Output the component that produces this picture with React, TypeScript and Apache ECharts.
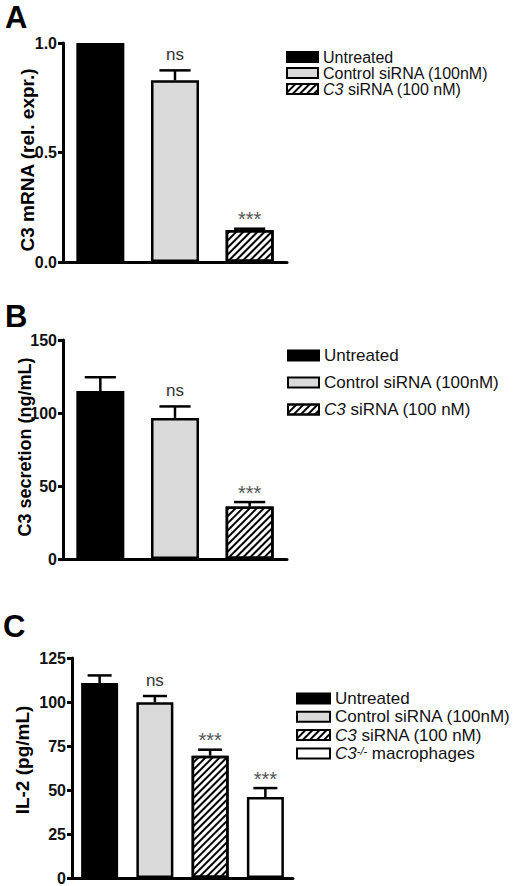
import React, { useEffect, useRef } from "react";
import * as echarts from "echarts";

const FONT = '"Liberation Sans", Arial, Helvetica, sans-serif';

// ---- data ----
const groupsAB = ["Untreated", "Control siRNA (100nM)", "C3 siRNA (100 nM)"];
const groupsC = ["Untreated", "Control siRNA (100nM)", "C3 siRNA (100 nM)", "C3-/- macrophages"];

const meanA = [1.0, 0.83, 0.146];
const errA = [0, 0.045, 0.006];
const sigA = ["", "ns", "***"];
const ticksA = [0, 0.5, 1.0];

const meanB = [115, 96.5, 36];
const errB = [9.5, 8, 3];
const sigB = ["", "ns", "***"];
const ticksB = [0, 50, 100, 150];

const meanC = [110.8, 99.8, 69.5, 46];
const errC = [4.3, 3.6, 3.4, 5.1];
const sigC = ["", "ns", "***", "***"];
const ticksC = [0, 25, 50, 75, 100, 125];

const titleA = "C3 mRNA (rel. expr.)";
const titleB = "C3 secretion (ng/mL)";
const titleC = "IL-2 (pg/mL)";

// ---- styles ----
const hatch = {
  symbol: "rect",
  symbolSize: 1,
  dashArrayX: [1, 0],
  dashArrayY: [1.2, 3],
  rotation: -Math.PI / 4,
  color: "#000",
};
const groupStyles = [
  { color: "#000", borderColor: "#000", borderWidth: 2.5 },
  { color: "#dadada", borderColor: "#000", borderWidth: 2.5 },
  { color: "#fff", borderColor: "#000", borderWidth: 2.5, decal: hatch },
  { color: "#fff", borderColor: "#000", borderWidth: 2.5 },
];

const panels = [
  { groups: groupsAB, mean: meanA, err: errA, sig: sigA, ticks: ticksA, fmt: (v: number) => v.toFixed(1),
    grid: { left: 63, top: 43, width: 224, height: 219 }, barW: 48 },
  { groups: groupsAB, mean: meanB, err: errB, sig: sigB, ticks: ticksB, fmt: (v: number) => String(v),
    grid: { left: 63, top: 340, width: 224, height: 219 }, barW: 48 },
  { groups: groupsC, mean: meanC, err: errC, sig: sigC, ticks: ticksC, fmt: (v: number) => String(v),
    grid: { left: 72, top: 658, width: 221, height: 220 }, barW: 37 },
];

function legendFormatter(name: string) {
  if (name === groupsC[2]) return "{i|C3} siRNA (100 nM)";
  if (name === groupsC[3]) return "{i|C3}{s|-/-} macrophages";
  return name;
}

const legendText = (fs: number, lh: number) => ({
  fontSize: fs,
  fontFamily: FONT,
  color: "#111",
  lineHeight: lh,
  rich: {
    i: { fontStyle: "italic", fontSize: fs, fontFamily: FONT, color: "#111", lineHeight: lh },
    s: { fontStyle: "italic", fontSize: 11, fontFamily: FONT, color: "#111", lineHeight: 11, verticalAlign: "top" },
  },
});

export default function App() {
  const ref = useRef<HTMLDivElement>(null);
  useEffect(() => {
    if (!ref.current) return;
    const chart = echarts.init(ref.current, undefined, { renderer: "svg" });

    const grid: any[] = [];
    const xAxis: any[] = [];
    const yAxis: any[] = [];
    const series: any[] = [];

    panels.forEach((p, pi) => {
      grid.push({ ...p.grid, containLabel: false });
      xAxis.push({
        type: "category",
        gridIndex: pi,
        data: p.groups,
        axisLine: { show: true, lineStyle: { color: "#000", width: 3 } },
        axisTick: { show: false },
        axisLabel: { show: false },
      });
      yAxis.push({
        type: "value",
        gridIndex: pi,
        min: p.ticks[0],
        max: p.ticks[p.ticks.length - 1],
        interval: p.ticks[1] - p.ticks[0],
        axisLine: { show: true, lineStyle: { color: "#000", width: 3 } },
        axisTick: { show: true, length: 5, lineStyle: { color: "#000", width: 3 } },
        splitLine: { show: false },
        axisLabel: {
          formatter: p.fmt,
          fontSize: 16,
          fontWeight: "bold",
          fontFamily: FONT,
          color: "#111",
          margin: 6,
        },
      });
      p.groups.forEach((g, gi) => {
        series.push({
          type: "bar",
          name: g,
          xAxisIndex: pi,
          yAxisIndex: pi,
          barWidth: p.barW,
          barGap: "-100%",
          data: p.mean.map((m, j) => (j === gi ? m : null)),
          itemStyle: groupStyles[gi],
          z: 2,
        });
      });
      const capW = p.barW * 0.65;
      const sig = p.sig;
      series.push({
        type: "custom",
        xAxisIndex: pi,
        yAxisIndex: pi,
        z: 3,
        data: p.mean.map((m, j) => [j, m, p.err[j]]),
        encode: { x: 0, y: 1 },
        renderItem: (params: any, api: any) => {
          const j = api.value(0);
          const m = api.value(1);
          const e = api.value(2);
          const base = api.coord([j, m]);
          const top = api.coord([j, m + e]);
          const children: any[] = [];
          if (e > 0) {
            children.push({
              type: "line",
              shape: { x1: base[0], y1: base[1], x2: top[0], y2: top[1] },
              style: { stroke: "#000", lineWidth: 2.5 },
            });
            children.push({
              type: "line",
              shape: { x1: top[0] - capW / 2, y1: top[1], x2: top[0] + capW / 2, y2: top[1] },
              style: { stroke: "#000", lineWidth: 2.5 },
            });
          }
          const s = sig[j];
          if (s) {
            const isStar = s.indexOf("*") >= 0;
            children.push({
              type: "text",
              x: top[0],
              y: top[1] - (isStar ? 9.5 : 15.5),
              style: {
                text: s,
                fill: isStar ? "#555" : "#333",
                fontSize: isStar ? 20 : 17,
                fontFamily: FONT,
                align: "center",
                verticalAlign: "middle",
              },
            });
          }
          return { type: "group", children };
        },
      });
    });

    const legendBase = {
      orient: "vertical",
      icon: "rect",
      itemHeight: 10,
      padding: 0,
      formatter: legendFormatter,
      selectedMode: false,
    };

    const titleStyle = (fs: number) => ({
      fill: "#000",
      fontSize: fs,
      fontWeight: "bold",
      fontFamily: FONT,
      align: "center",
      verticalAlign: "middle",
    });

    chart.setOption({
      animation: false,
      backgroundColor: "#fff",
      grid,
      xAxis,
      yAxis,
      series,
      legend: [
        { ...legendBase, data: groupsAB, left: 286, top: 49, itemWidth: 31, itemGap: 0, textStyle: legendText(16, 16) },
        { ...legendBase, data: groupsAB, left: 287, top: 347, itemWidth: 31, itemGap: 10, textStyle: legendText(17, 16) },
        { ...legendBase, data: groupsC, left: 296, top: 690, itemWidth: 33, itemGap: 1.3, textStyle: legendText(17, 16) },
      ],
      graphic: [
        { type: "text", x: 5, y: 17.5, style: { ...titleStyle(31), align: "left", text: "A" } },
        { type: "text", x: 5, y: 316, style: { ...titleStyle(31), align: "left", text: "B" } },
        { type: "text", x: 3, y: 626, style: { ...titleStyle(31), align: "left", text: "C" } },
        { type: "text", x: 27, y: 160, rotation: Math.PI / 2, style: { ...titleStyle(19), text: titleA } },
        { type: "text", x: 25, y: 447, rotation: Math.PI / 2, style: { ...titleStyle(18), text: titleB } },
        { type: "text", x: 22, y: 760, rotation: Math.PI / 2, style: { ...titleStyle(19), text: titleC } },
      ],
    });
    return () => chart.dispose();
  }, []);
  return (
    <div
      ref={ref}
      style={{ position: "absolute", left: 0, top: 0, width: 520, height: 886, background: "#fff" }}
    />
  );
}
